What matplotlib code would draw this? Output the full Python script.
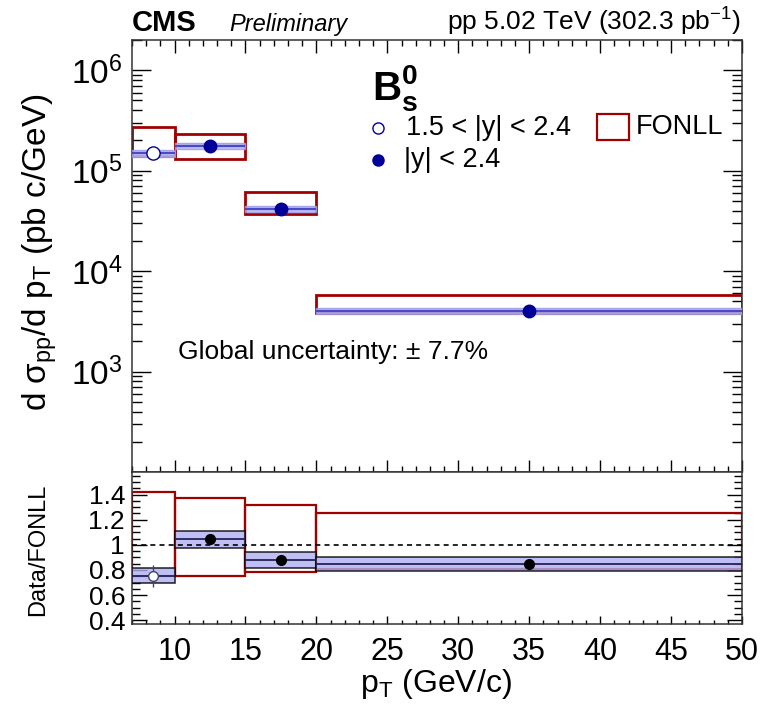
import math

import matplotlib

matplotlib.use("Agg")
import matplotlib.pyplot as plt
from matplotlib.patches import Rectangle
from matplotlib.ticker import FixedLocator, LogLocator, MultipleLocator, NullFormatter, FuncFormatter

plt.rcParams["font.family"] = ["Liberation Sans", "DejaVu Sans"]
plt.rcParams["mathtext.fontset"] = "custom"
plt.rcParams["mathtext.rm"] = "Liberation Sans"
plt.rcParams["mathtext.it"] = "Liberation Sans:italic"
plt.rcParams["mathtext.bf"] = "Liberation Sans:bold"

# ---- data (pT bins in GeV/c)
pt_lo = [7, 10, 15, 20]
pt_hi = [10, 15, 20, 50]
pt_c = [8.5, 12.5, 17.5, 35]
open_marker = [True, False, False, False]  # first bin is 1.5 < |y| < 2.4

xsec = [1.49e5, 1.76e5, 4.15e4, 4.0e3]          # pb c/GeV
syst_rel = [0.08, 0.065, 0.072, 0.066]
stat_rel = [0.115, 0.03, 0.035, 0.04]
fonll_lo = [1.40e5, 1.30e5, 3.70e4, 3.86e3]
fonll_hi = [2.70e5, 2.32e5, 6.07e4, 5.72e3]

ratio = [0.755, 1.045, 0.88, 0.85]
ratio_fonll_lo = [0.75, 0.756, 0.78, 0.81]
ratio_fonll_hi = [1.418, 1.375, 1.317, 1.25]

W, H = 761, 704
RED = "#a00000"
NAVY = "#000099"

fig = plt.figure(figsize=(W / 100, H / 100), dpi=100)


def fax(x0, y0, x1, y1):
    return fig.add_axes([x0 / W, 1 - y1 / H, (x1 - x0) / W, (y1 - y0) / H])


def ftxt(x, y, s, **kw):
    return fig.text(x / W, 1 - y / H, s, **kw)


ax = fax(132, 40, 742, 472)
rx = fax(132, 472, 742, 624)

# ---------------------------------------------------------- top panel
for i in range(4):
    w = pt_hi[i] - pt_lo[i]
    ax.add_patch(Rectangle((pt_lo[i], fonll_lo[i]), w, fonll_hi[i] - fonll_lo[i],
                           fill=False, ec=RED, lw=2, zorder=2))
    y = xsec[i]
    ax.add_patch(Rectangle((pt_lo[i], y * (1 - syst_rel[i])), w, 2 * y * syst_rel[i],
                           fc="#b8b8f4", ec="#9c9ce4", lw=1, alpha=0.85, zorder=3))
    ax.hlines(y, pt_lo[i], pt_hi[i], color="#4a4ac8", lw=1.6, zorder=4)
    ax.errorbar(pt_c[i], y, yerr=y * stat_rel[i], fmt="o", ms=9.5 if open_marker[i] else 9,
                mfc="white" if open_marker[i] else NAVY, mec=NAVY, mew=1,
                ecolor=NAVY, elinewidth=1, capsize=0, zorder=5)

ax.set_xlim(7, 50)
ax.set_yscale("log")
ax.set_ylim(100, 2e6)
ax.yaxis.set_major_locator(FixedLocator([1e3, 1e4, 1e5, 1e6]))
ax.yaxis.set_major_formatter(FuncFormatter(lambda v, p: r"$\mathdefault{10^{%d}}$" % round(math.log10(v))))
ax.yaxis.set_minor_locator(LogLocator(base=10, subs=range(2, 10), numticks=20))
ax.yaxis.set_minor_formatter(NullFormatter())
ax.xaxis.set_major_locator(MultipleLocator(5))
ax.xaxis.set_minor_locator(MultipleLocator(1))
ax.tick_params(which="both", direction="in", top=True, right=True, labelbottom=False)
ax.tick_params(axis="y", which="major", length=14, width=1, labelsize=24, pad=7)
ax.tick_params(axis="y", which="minor", length=7, width=1)
ax.tick_params(axis="x", which="major", length=9, width=1)
ax.tick_params(axis="x", which="minor", length=4.5, width=1)

# legend, drawn by hand
ax.plot([0.403], [0.796], "o", ms=8, mfc="white", mec=NAVY, mew=1, transform=ax.transAxes)
ax.plot([0.403], [0.722], "o", ms=8, mfc=NAVY, mec=NAVY, transform=ax.transAxes)
ftxt(406, 128, "1.5 < |y| < 2.4", fontsize=19.5, va="center")
ftxt(404, 160, "|y| < 2.4", fontsize=19.5, va="center")
fig.add_artist(Rectangle((597 / W, 1 - 140 / H), 32 / W, 26 / H, fill=False, ec=RED, lw=1.6,
                         transform=fig.transFigure))
ftxt(636, 127, "FONLL", fontsize=19.5, va="center")
ftxt(372, 100, r"$\mathbf{B^0_s}$", fontsize=29, va="baseline")
ftxt(178, 352, "Global uncertainty: ± 7.7%", fontsize=19, va="center")

# ---------------------------------------------------------- ratio panel
for i in range(4):
    w = pt_hi[i] - pt_lo[i]
    rx.add_patch(Rectangle((pt_lo[i], ratio_fonll_lo[i]), w, ratio_fonll_hi[i] - ratio_fonll_lo[i],
                           fill=False, ec=RED, lw=1.6, zorder=2))
    r = ratio[i]
    rx.add_patch(Rectangle((pt_lo[i], r * (1 - syst_rel[i])), w, 2 * r * syst_rel[i],
                           fc="#b0b0f4", ec="black", lw=1.2, alpha=0.8, zorder=3))
    rx.hlines(r, pt_lo[i], pt_hi[i], color="#222255", lw=1.3, zorder=4)
    rx.errorbar(pt_c[i], r, yerr=r * stat_rel[i], fmt="o", ms=7,
                mfc="white" if open_marker[i] else "black",
                mec="#444466" if open_marker[i] else "black", mew=1,
                ecolor="#444466", elinewidth=1, capsize=0, zorder=5)

rx.axhline(1, color="black", lw=1.2, ls=(0, (3, 2.5)), zorder=4)
rx.set_xlim(7, 50)
rx.set_ylim(0.37, 1.58)
rx.yaxis.set_major_locator(FixedLocator([0.4, 0.6, 0.8, 1.0, 1.2, 1.4]))
rx.yaxis.set_major_formatter(FuncFormatter(lambda v, p: "1" if abs(v - 1) < 1e-6 else "%.1f" % v))
rx.yaxis.set_minor_locator(MultipleLocator(0.05))
rx.xaxis.set_major_locator(MultipleLocator(5))
rx.xaxis.set_minor_locator(MultipleLocator(1))
rx.tick_params(which="both", direction="in", top=False, right=True)
rx.tick_params(axis="y", which="major", length=11, width=1, labelsize=19, pad=5)
rx.tick_params(axis="y", which="minor", length=5.5, width=1)
rx.tick_params(axis="x", which="major", length=5.5, width=1, labelsize=22, pad=9)
rx.tick_params(axis="x", which="minor", length=3, width=1)

for a in (ax, rx):
    for s in a.spines.values():
        s.set_linewidth(1.1)
        s.set_color("#333333")

# ---------------------------------------------------------- labels
ftxt(40, 252, "d σ$_{\\mathrm{pp}}$/d p$_{\\mathrm{T}}$ (pb c/GeV)", fontsize=24,
     rotation=90, ha="center", va="center")
ftxt(38, 550, "Data/FONLL", fontsize=17, rotation=90, ha="center", va="center")
ftxt(436, 684, "p$_{\\mathrm{T}}$ (GeV/c)", fontsize=23, ha="center", va="center")

ftxt(132, 31, "CMS", fontsize=21, fontweight="bold", va="baseline")
ftxt(229, 31, "Preliminary", fontsize=17, style="italic", va="baseline")
ftxt(741, 31, "pp 5.02 TeV (302.3 pb$^{\\mathrm{-1}}$)", fontsize=19, ha="right", va="baseline")

fig.savefig("out.png", dpi=100)
